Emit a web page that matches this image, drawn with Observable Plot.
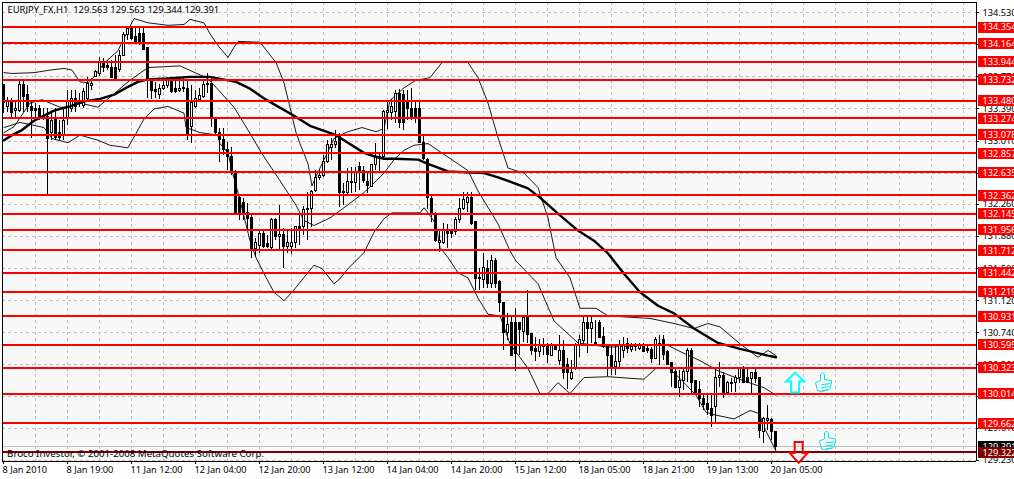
<!DOCTYPE html>
<html>
<head>
<meta charset="utf-8">
<script src="https://cdn.jsdelivr.net/npm/d3@7"></script>
<script src="https://cdn.jsdelivr.net/npm/@observablehq/plot@0.6"></script>
<style>html,body{margin:0;padding:0;background:#fff}svg{display:block}</style>
</head>
<body>
<div id="chart"></div>
<script>
const openP = [133.67,133.41,133.47,133.36,133.37,133.67,133.55,133.41,133.39,133.39,
133.31,133.29,133.10,133.26,133.11,133.08,133.27,133.39,133.51,133.47,
133.42,133.51,133.66,133.77,133.80,133.94,133.90,133.88,133.87,133.85,
134.02,134.26,134.34,134.24,134.28,134.28,134.11,133.73,133.62,133.55,
133.63,133.66,133.75,133.63,133.60,133.64,133.63,133.18,133.41,133.50,
133.53,133.67,133.68,133.27,133.11,133.02,132.90,132.82,132.64,132.33,
132.28,132.16,132.10,131.73,131.77,131.91,131.79,131.74,132.07,131.87,
131.90,131.75,131.76,131.80,131.99,131.99,132.21,132.21,132.42,132.57,
132.60,132.76,132.93,132.96,133.08,132.39,132.40,132.51,132.51,132.70,
132.66,132.52,132.47,132.73,132.80,132.82,133.34,133.34,133.35,133.57,
133.56,133.47,133.39,133.39,133.39,132.99,132.78,132.32,132.15,131.80,
131.80,131.95,131.94,131.93,132.07,132.21,132.28,132.34,132.05,131.38,
131.37,131.50,131.32,131.59,131.34,131.09,130.74,130.85,130.85,130.85,
130.75,130.92,130.72,130.55,130.51,130.57,130.58,130.47,130.59,130.41,
130.53,130.36,130.19,130.31,130.60,130.64,130.86,130.79,130.62,130.85,
130.69,130.58,130.47,130.33,130.39,130.53,130.61,130.54,130.57,130.55,
130.58,130.55,130.54,130.43,130.60,130.66,130.51,130.38,130.27,130.09,
130.17,130.27,130.53,130.17,130.06,129.96,129.90,129.84,129.86,130.20,
130.23,130.03,130.14,130.14,130.20,130.32,130.20,130.19,130.26,130.20,
129.57,129.70,129.71,129.563];
const highP = [133.67,133.53,133.51,133.49,133.73,133.73,133.67,133.49,133.46,133.43,
133.39,133.39,133.35,133.39,133.25,133.39,133.61,133.61,133.61,133.57,
133.63,133.76,133.75,133.85,134.00,133.99,133.96,133.96,134.02,134.08,
134.30,134.37,134.37,134.35,134.35,134.35,134.11,133.73,133.70,133.68,
133.73,133.76,133.76,133.75,133.75,133.76,133.73,133.67,133.61,133.63,
133.73,133.81,133.75,133.29,133.16,133.16,132.99,132.93,132.66,132.37,
132.33,132.27,132.13,131.86,131.94,131.95,131.89,132.09,132.09,132.25,
131.97,131.95,131.97,131.99,132.13,132.24,132.40,132.42,132.66,132.66,
132.84,133.02,133.04,133.14,133.10,132.51,132.69,132.70,132.70,132.76,
132.71,132.63,132.73,132.98,132.87,133.37,133.47,133.50,133.61,133.62,
133.61,133.61,133.63,133.49,133.47,133.08,132.80,132.35,132.16,131.94,
132.03,132.02,131.96,132.10,132.33,132.40,132.40,132.40,132.05,131.50,
131.68,131.59,131.66,131.62,131.36,131.10,130.97,130.94,131.03,130.86,
130.94,131.24,130.73,130.68,130.66,130.67,130.61,130.61,130.59,130.71,
130.65,130.43,130.41,130.61,130.71,130.92,130.92,130.93,130.88,130.88,
130.80,130.59,130.59,130.59,130.65,130.69,130.67,130.61,130.61,130.61,
130.61,130.58,130.57,130.68,130.71,130.71,130.53,130.38,130.32,130.29,
130.33,130.55,130.55,130.17,130.16,130.00,130.00,130.00,130.33,130.39,
130.27,130.16,130.20,130.23,130.33,130.34,130.31,130.27,130.31,130.20,
129.74,129.88,129.72,129.563];
const lowP = [133.34,133.35,133.27,133.27,133.35,133.35,133.35,133.04,133.25,133.25,
133.25,132.38,133.02,133.02,133.02,133.02,133.19,133.35,133.35,133.41,
133.39,133.49,133.61,133.76,133.77,133.82,133.85,133.75,133.74,133.82,
134.01,134.20,134.20,134.18,134.14,134.08,133.51,133.50,133.51,133.50,
133.61,133.63,133.57,133.57,133.59,133.59,133.02,132.98,133.39,133.49,
133.51,133.57,133.17,133.08,132.76,132.84,132.66,132.60,132.14,132.07,
132.07,131.95,131.62,131.63,131.68,131.74,131.74,131.73,131.83,131.71,
131.50,131.68,131.67,131.74,131.77,131.89,131.83,131.99,132.40,132.54,
132.58,132.74,132.78,132.92,132.22,132.25,132.37,132.39,132.40,132.42,
132.51,132.39,132.46,132.66,132.64,132.80,133.15,133.25,133.22,133.16,
133.14,133.25,133.25,133.22,132.98,132.78,132.20,132.05,131.81,131.69,
131.79,131.74,131.86,131.89,132.03,132.19,132.16,132.01,131.24,131.24,
131.26,131.26,131.26,131.26,130.98,130.53,130.65,130.46,130.28,130.47,
130.62,130.61,130.47,130.40,130.45,130.47,130.38,130.47,130.54,130.35,
130.19,130.07,130.17,130.29,130.45,130.61,130.49,130.61,130.61,130.67,
130.55,130.22,130.23,130.23,130.32,130.43,130.49,130.51,130.52,130.53,
130.51,130.49,130.38,130.43,130.35,130.41,130.35,130.09,130.08,129.97,
130.06,130.15,130.00,130.02,129.86,129.82,129.76,129.62,129.68,130.09,
129.96,130.00,130.03,130.03,130.14,130.14,130.14,130.02,130.14,129.49,
129.43,129.58,129.46,129.344];
const closeP = [133.46,133.49,133.34,133.39,133.67,133.53,133.41,133.37,133.36,133.29,
133.29,133.04,133.25,133.05,133.05,133.25,133.49,133.51,133.41,133.49,
133.59,133.69,133.69,133.83,133.94,133.87,133.87,133.76,133.75,134.02,
134.26,134.34,134.22,134.18,134.18,134.09,133.73,133.60,133.59,133.63,
133.66,133.73,133.59,133.59,133.63,133.63,133.08,133.46,133.51,133.54,
133.67,133.68,133.29,133.11,133.02,132.90,132.82,132.63,132.14,132.15,
132.13,132.09,131.73,131.80,131.91,131.76,131.75,132.07,131.87,131.90,
131.75,131.80,131.80,131.99,131.96,132.19,132.19,132.41,132.57,132.60,
132.76,132.96,132.96,133.00,132.39,132.41,132.52,132.52,132.64,132.66,
132.54,132.48,132.73,132.82,132.82,133.35,133.36,133.41,133.57,133.22,
133.22,133.39,133.27,133.27,132.99,132.80,132.33,132.15,131.83,131.83,
131.95,131.91,131.91,132.08,132.21,132.31,132.33,132.03,131.38,131.39,
131.51,131.32,131.59,131.32,131.09,130.74,130.83,130.47,130.49,130.77,
130.92,130.71,130.53,130.51,130.58,130.59,130.48,130.58,130.54,130.53,
130.26,130.26,130.26,130.59,130.66,130.86,130.79,130.85,130.61,130.68,
130.57,130.46,130.33,130.39,130.58,130.59,130.55,130.57,130.59,130.58,
130.51,130.52,130.43,130.66,130.61,130.48,130.36,130.26,130.09,130.17,
130.27,130.53,130.15,130.03,129.96,129.88,129.83,129.76,130.20,130.23,
130.00,130.15,130.13,130.20,130.32,130.15,130.15,130.26,130.19,129.58,
129.72,129.72,129.56,129.391];

const upperBar = [0,2,7.5,11.5,15,17,19,21,22.5,25,28.5,29.5,31,32.5,36,41,45,46.5,50,51.5,53.5,56,57.5,58.5,64,66,68,70,71.5,73,74,76,77,78.5,80.5,82.5,84,86,89.5,93,95,96.5,100,103,106.5,109.5,116,118.5,121,123.5,126,128,130,133.5,136,138,141.5,144,148,151,161.5,167.5,172.5,176,179,184,188.5,191,193];
const upperBand = [133.82,133.81,133.82,133.85,133.87,133.85,133.71,133.70,133.77,133.93,134.08,134.18,134.32,134.46,134.41,134.38,134.39,134.45,134.41,134.28,134.14,134.00,134.12,134.19,134.18,134.06,133.94,133.70,133.41,133.11,132.98,132.74,132.48,132.64,132.84,133.04,133.08,133.12,133.17,133.12,133.16,133.49,133.64,133.73,133.76,133.94,133.94,133.76,133.46,133.05,132.69,132.66,132.63,132.46,132.10,131.63,131.39,131.03,131.03,130.94,130.91,130.85,130.79,130.85,130.81,130.61,130.45,130.53,130.47];
const middleBar = [0,2.5,6.5,9.5,14,16,19,23.5,27.5,30,31.5,36,44,51,57.5,61,64.5,69,73,75,77.5,81.5,85,90,95,97.5,100,102.5,106,108.5,116,118.5,123.5,126.5,128,133.5,137.5,143.5,151,160,166,168.5,174,178.5,185,190,193];
const middleBand = [133.11,133.18,133.46,133.50,133.41,133.41,133.46,133.41,133.57,133.67,133.73,133.88,133.90,133.75,133.41,133.14,132.86,132.54,132.25,132.07,132.01,132.10,132.22,132.40,132.63,132.79,132.90,132.96,132.98,132.90,132.66,132.42,132.03,131.71,131.59,131.32,130.88,130.62,130.57,130.59,130.59,130.53,130.41,130.29,130.17,130.09,130.00];
const lowerBar = [0,4,10,12,16,19,23.5,26.5,31,35,37.5,41,45,45.5,49,53.5,54,56,57,59,61.5,63,65,67.5,70,72,77.5,79.5,82.5,84,86,87.5,90,92.5,95,97,104,105,106,108,109,111,113.5,116,118.5,121,124,126.5,131,134,136,138.5,141.5,145,151,160,163,166,169,173,175.5,177.5,182.5,186.5,189,189.5,193];
const lowerBand = [133.17,133.23,133.17,133.04,132.99,133.08,133.02,132.96,132.93,133.27,133.39,133.42,133.34,133.17,133.11,133.08,132.98,132.87,132.66,132.31,131.83,131.63,131.44,131.22,131.12,131.22,131.54,131.50,131.32,131.38,131.50,131.57,131.69,131.93,132.09,132.16,132.16,132.22,132.16,132.03,131.75,131.63,131.45,131.39,131.15,130.96,130.94,130.61,130.32,130.02,130.02,130.15,130.02,130.21,130.22,130.19,130.32,130.33,130.20,130.00,129.80,129.77,129.72,129.82,129.78,129.67,129.34];
const maBar = [0,2,4.5,7.5,12.5,16.5,20,24,27.5,30.5,33.5,36,41,46.5,51.5,58,61.5,65.5,72.5,76.5,82.5,84,90,92.5,95,97.5,103.5,106,111,120,123.5,126.5,131,134,138.5,143.5,147.5,151,155,159,163.5,167.5,172.5,178.5,184,191,193];
const maValue = [133.02,133.08,133.14,133.25,133.37,133.42,133.48,133.51,133.56,133.64,133.71,133.74,133.75,133.77,133.77,133.71,133.63,133.50,133.31,133.19,133.09,133.05,132.87,132.83,132.80,132.80,132.79,132.74,132.65,132.63,132.58,132.53,132.45,132.34,132.15,131.95,131.83,131.68,131.44,131.22,131.06,130.97,130.79,130.62,130.55,130.47,130.45];

const levels = [134.354,134.164,133.944,133.732,133.480,133.274,133.078,132.857,132.635,132.362,132.145,131.956,131.712,131.442,131.219,130.931,130.595,130.323,130.014,129.662];
const stopLevel = 129.322;
const lastPrice = 129.391;
const priceTicks = [134.53,134.15,133.77,133.39,133.01,132.63,132.26,131.88,131.50,131.12,130.74,130.36,129.99,129.61,129.23];
const timeLabels = ["8 Jan 2010","8 Jan 19:00","11 Jan 12:00","12 Jan 04:00","12 Jan 20:00","13 Jan 12:00","14 Jan 04:00","14 Jan 20:00","15 Jan 12:00","18 Jan 05:00","18 Jan 21:00","19 Jan 13:00","20 Jan 05:00"];
const titleText = "EURJPY_FX,H1\u00a0\u00a0129.563 129.563 129.344 129.391";
const creditText = "Broco Investor, \u00a9 2001-2008 MetaQuotes Software Corp.";

const xDomain = [-0.75, 252.75];
const yDomain = [129.003, 134.674];
const chartLeft = -0.25, chartRight = 243.25, chartTop = 134.65, chartBottom = 129.216;
const tagLeft = 243.75, tagRight = 252.75, tagTextX = 244.75;
const font = "'Noto Sans'";

const candles = openP.map((o, i) => ({i, o, h: highP[i], l: lowP[i], c: closeP[i]}));
const line = (xs, ys) => xs.map((x, k) => ({x, y: ys[k]}));
const gridBars = d3.range(8, 241, 8);
const labelBars = timeLabels.map((_, k) => k * 16);

// custom glyphs used by Plot.dot
const arrowUp = {draw(c) { c.moveTo(0,-10); c.lineTo(9,-1); c.lineTo(4,-1); c.lineTo(4,10); c.lineTo(-4,10); c.lineTo(-4,-1); c.lineTo(-9,-1); c.closePath(); }};
const arrowDown = {draw(c) { c.moveTo(0,11); c.lineTo(9,1); c.lineTo(4,1); c.lineTo(4,-10); c.lineTo(-4,-10); c.lineTo(-4,1); c.lineTo(-9,1); c.closePath(); }};
const thumb = {draw(c) {
  c.moveTo(-8,0); c.lineTo(-3,-2); c.lineTo(-3,-8); c.lineTo(-1,-10); c.lineTo(1,-8); c.lineTo(1,-3);
  c.lineTo(8,-2); c.lineTo(8,1); c.lineTo(7,3); c.lineTo(7,5); c.lineTo(5,7); c.lineTo(-2,9); c.lineTo(-6,8); c.closePath();
  c.moveTo(-2,2); c.lineTo(7,1); c.moveTo(-2,5); c.lineTo(6,4); c.moveTo(-2,8); c.lineTo(5,7);
}};

const fig = Plot.plot({
  width: 1014, height: 479, margin: 0,
  x: {axis: null, domain: xDomain, range: [0, 1014]},
  y: {axis: null, domain: yDomain, range: [479, 0]},
  style: {fontFamily: font, fontSize: "9.2px", background: "#fff", overflow: "hidden"},
  marks: [
    Plot.rect([0], {x1: chartLeft, x2: chartRight, y1: chartBottom, y2: chartTop, fill: "#f8f8f8"}),
    Plot.ruleX(gridBars, {x: d => d, y1: chartBottom, y2: chartTop, stroke: "#c0c0c0", strokeDasharray: "3 3", shapeRendering: "crispEdges"}),
    Plot.ruleY(priceTicks, {y: d => d, x1: chartLeft, x2: chartRight, stroke: "#c0c0c0", strokeDasharray: "3 3", shapeRendering: "crispEdges"}),
    Plot.ruleY([lastPrice], {y: d => d, x1: chartLeft, x2: chartRight, stroke: "#c0c0c0", shapeRendering: "crispEdges"}),
    Plot.line(line(upperBar, upperBand), {x: "x", y: "y", stroke: "#000", strokeWidth: 0.9, dx: 0.5}),
    Plot.line(line(middleBar, middleBand), {x: "x", y: "y", stroke: "#000", strokeWidth: 0.9, dx: 0.5}),
    Plot.line(line(lowerBar, lowerBand), {x: "x", y: "y", stroke: "#000", strokeWidth: 0.9, dx: 0.5}),
    Plot.ruleX(candles, {x: "i", y1: "l", y2: "h", stroke: "#000", shapeRendering: "crispEdges"}),
    Plot.rect(candles, {x1: d => d.i - 0.25, x2: d => d.i + 0.25, y1: "o", y2: "c", dx: 0.5,
      fill: d => d.c >= d.o ? "#fff" : "#000", stroke: "#000", shapeRendering: "crispEdges"}),
    Plot.line(line(maBar, maValue), {x: "x", y: "y", stroke: "#000", strokeWidth: 2.4, dx: 0.5}),
    Plot.ruleY(levels, {y: d => d, x1: chartLeft, x2: chartRight, stroke: "#ff0000", strokeWidth: 2, dy: -0.5, shapeRendering: "crispEdges"}),
    Plot.ruleY([stopLevel], {y: d => d, x1: chartLeft, x2: chartRight, stroke: "#800000", strokeWidth: 2, dy: -0.5, shapeRendering: "crispEdges"}),
    Plot.ruleX([chartLeft, chartRight], {x: d => d, y1: chartBottom, y2: chartTop, stroke: "#000", shapeRendering: "crispEdges"}),
    Plot.ruleY([chartTop, chartBottom], {y: d => d, x1: chartLeft, x2: chartRight, stroke: "#000", shapeRendering: "crispEdges"}),
    Plot.ruleY(priceTicks, {y: d => d, x1: chartRight, x2: 244, stroke: "#000", shapeRendering: "crispEdges"}),
    Plot.ruleX(labelBars, {x: d => d, y1: chartBottom, y2: 129.18, stroke: "#000", shapeRendering: "crispEdges"}),
    Plot.text(priceTicks, {x: tagTextX, y: d => d, text: d => d.toFixed(3), textAnchor: "start", fill: "#000"}),
    Plot.text(timeLabels, {x: (d, k) => k * 16, y: 129.11, text: d => d, textAnchor: "start", dx: -1, fill: "#000"}),
    Plot.ruleY(levels, {y: d => d, x1: tagLeft, x2: tagRight, stroke: "#ff0000", strokeWidth: 11, dy: -0.5, shapeRendering: "crispEdges"}),
    Plot.text(levels, {x: tagTextX, y: d => d, text: d => d.toFixed(3), textAnchor: "start", fill: "#fff"}),
    Plot.ruleY([lastPrice], {y: d => d, x1: tagLeft, x2: tagRight, stroke: "#000", strokeWidth: 11, dy: -0.5, shapeRendering: "crispEdges"}),
    Plot.text([lastPrice], {x: tagTextX, y: d => d, text: d => d.toFixed(3), textAnchor: "start", fill: "#fff"}),
    Plot.ruleY([stopLevel], {y: d => d, x1: tagLeft, x2: tagRight, stroke: "#800000", strokeWidth: 11, dy: -0.5, shapeRendering: "crispEdges"}),
    Plot.text([stopLevel], {x: tagTextX, y: d => d, text: d => d.toFixed(3), textAnchor: "start", fill: "#fff"}),
    Plot.text([titleText], {x: 1, y: 134.556, text: d => d, textAnchor: "start", fill: "#000", fontSize: 9.4}),
    Plot.text([creditText], {x: 0.9, y: 129.31, text: d => d, textAnchor: "start", fill: "#000", fontSize: 9.7}),
    Plot.dot([{x: 197.9, y: 130.15}], {x: "x", y: "y", symbol: arrowUp, fill: "none", stroke: "#00ffff", strokeWidth: 2}),
    Plot.dot([{x: 198.8, y: 129.33}], {x: "x", y: "y", symbol: arrowDown, fill: "none", stroke: "#ff0000", strokeWidth: 2}),
    Plot.dot([{x: 205, y: 130.15}, {x: 206, y: 129.46}], {x: "x", y: "y", symbol: thumb, fill: "none", stroke: "#00e8e8", strokeWidth: 1})
  ]
});
document.getElementById("chart").appendChild(fig);
</script>
</body>
</html>
